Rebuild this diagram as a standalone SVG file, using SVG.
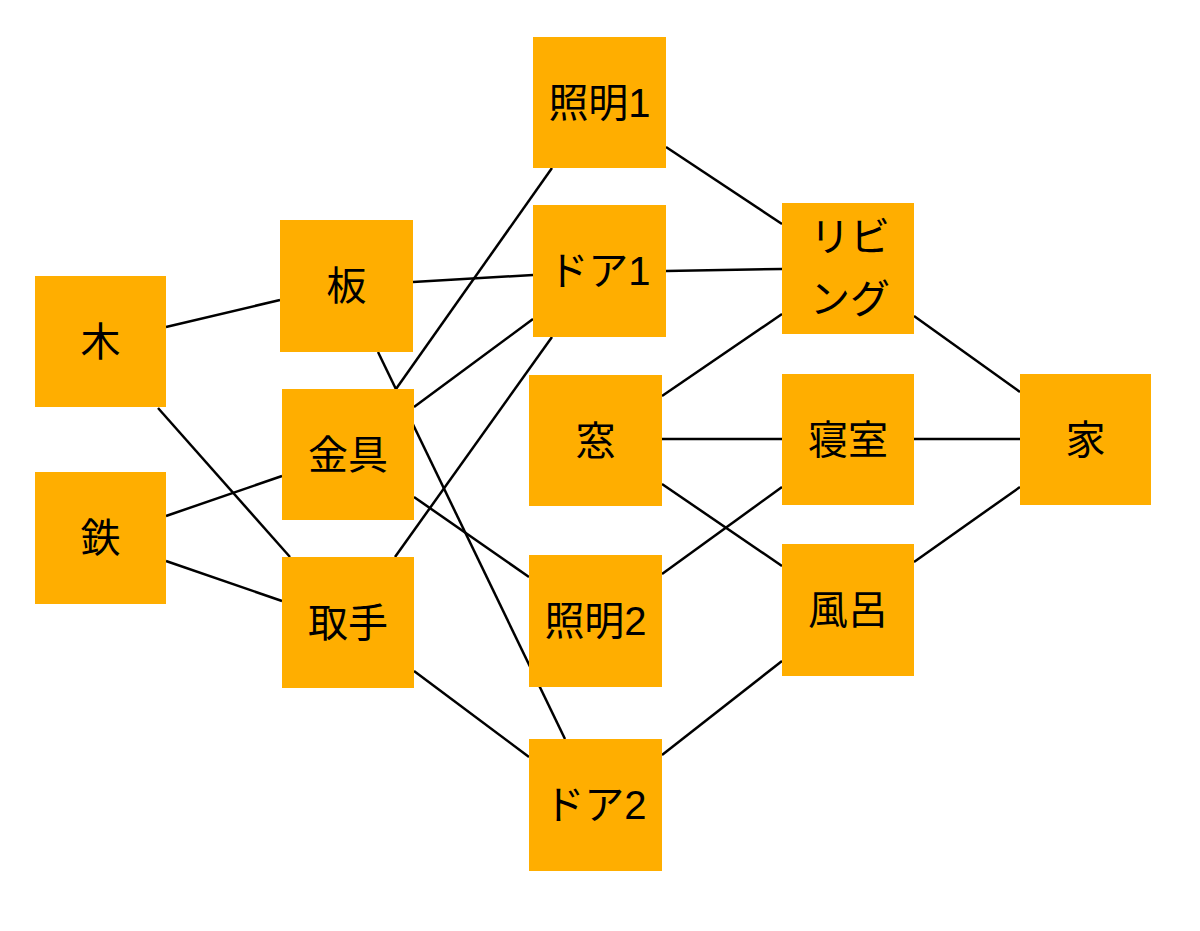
<svg xmlns="http://www.w3.org/2000/svg" width="1200" height="931" viewBox="0 0 1200 931">
<style>
.n rect{fill:#FFAE00}
.n text{font-family:"Liberation Sans","Noto Sans CJK JP",sans-serif;font-size:40px;fill:#000;text-anchor:middle;dominant-baseline:central}
#edges line{stroke:#000;stroke-width:2.5}
</style>
<rect width="1200" height="931" fill="#fff"/>
<g id="edges">
<line x1="166" y1="327" x2="280" y2="300"/>
<line x1="158" y1="408" x2="290" y2="557"/>
<line x1="166" y1="516" x2="282" y2="476"/>
<line x1="166" y1="561" x2="282" y2="601"/>
<line x1="413" y1="282" x2="533" y2="275"/>
<line x1="378" y1="352" x2="565" y2="739"/>
<line x1="396" y1="389" x2="552" y2="168"/>
<line x1="414" y1="407" x2="533" y2="319"/>
<line x1="414" y1="497" x2="529" y2="577"/>
<line x1="395" y1="557" x2="552" y2="337"/>
<line x1="414" y1="671" x2="529" y2="757"/>
<line x1="666" y1="147" x2="782" y2="224"/>
<line x1="666" y1="271" x2="782" y2="269"/>
<line x1="662" y1="396" x2="782" y2="314"/>
<line x1="662" y1="439" x2="782" y2="439"/>
<line x1="662" y1="484" x2="782" y2="566"/>
<line x1="662" y1="574" x2="782" y2="487"/>
<line x1="662" y1="755" x2="782" y2="661"/>
<line x1="914" y1="316" x2="1020" y2="392"/>
<line x1="914" y1="439" x2="1020" y2="439"/>
<line x1="914" y1="562" x2="1020" y2="487"/>
</g>
<g id="n-ki" class="n"><rect x="35" y="276" width="131" height="131"/><text x="100.5" y="341.5">木</text></g>
<g id="n-tetsu" class="n"><rect x="35" y="472" width="131" height="132"/><text x="100.5" y="538">鉄</text></g>
<g id="n-ita" class="n"><rect x="280" y="220" width="133" height="132"/><text x="346.5" y="286">板</text></g>
<g id="n-kanagu" class="n"><rect x="282" y="389" width="132" height="131"/><text x="348" y="454.5">金具</text></g>
<g id="n-totte" class="n"><rect x="282" y="557" width="132" height="131"/><text x="348" y="622.5">取手</text></g>
<g id="n-shoumei1" class="n"><rect x="533" y="37" width="133" height="131"/><text x="599.5" y="102.5">照明1</text></g>
<g id="n-door1" class="n"><rect x="533" y="205" width="133" height="132"/><text x="599.5" y="271">ドア1</text></g>
<g id="n-mado" class="n"><rect x="529" y="375" width="133" height="131"/><text x="595.5" y="440.5">窓</text></g>
<g id="n-shoumei2" class="n"><rect x="529" y="555" width="133" height="132"/><text x="595.5" y="621">照明2</text></g>
<g id="n-door2" class="n"><rect x="529" y="739" width="133" height="132"/><text x="595.5" y="805">ドア2</text></g>
<g id="n-living" class="n"><rect x="782" y="203" width="132" height="131"/><text x="850" y="237">リビ</text><text x="850" y="299">ング</text></g>
<g id="n-shinshitsu" class="n"><rect x="782" y="374" width="132" height="131"/><text x="848" y="439.5">寝室</text></g>
<g id="n-furo" class="n"><rect x="782" y="544" width="132" height="132"/><text x="848" y="610">風呂</text></g>
<g id="n-ie" class="n"><rect x="1020" y="374" width="131" height="131"/><text x="1085.5" y="439.5">家</text></g>
</svg>
